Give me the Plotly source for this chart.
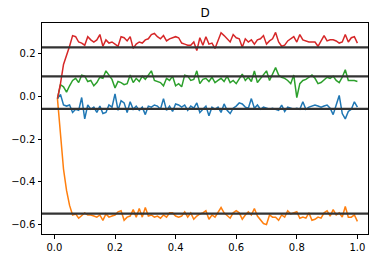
import numpy as np
import plotly.graph_objects as go

x = [round(0.01 * (i + 1), 2) for i in range(100)]

blue = [-0.01, 0.01, -0.04, -0.045, -0.04, -0.075, -0.06, -0.065, -0.005, -0.105,
        -0.04, -0.06, -0.05, -0.075, -0.045, -0.08, -0.075, -0.04, -0.05, 0.012,
        -0.065, -0.02, -0.03, -0.075, -0.025, -0.06, -0.045, -0.065, -0.05, -0.085,
        -0.045, -0.05, -0.04, -0.045, -0.06, -0.01, -0.065, -0.045, -0.07, -0.035,
        -0.04, -0.05, -0.04, -0.065, -0.045, -0.055, -0.03, -0.075, -0.06, -0.045,
        -0.09, -0.05, -0.06, -0.05, -0.075, -0.035, -0.065, -0.08, -0.055, -0.045,
        -0.03, -0.035, -0.05, -0.055, -0.01, -0.055, -0.04, -0.06, -0.05, -0.055,
        -0.06, -0.055, -0.06, -0.065, -0.04, -0.07, -0.05, -0.055, -0.06, -0.055,
        -0.06, -0.025, -0.06, -0.05, -0.045, -0.04, -0.045, -0.05, -0.045, -0.04,
        -0.055, -0.085, -0.04, 0.005, -0.08, -0.105, -0.07, -0.06, -0.025, -0.05]

orange = [-0.01, -0.19, -0.34, -0.44, -0.51, -0.555, -0.55, -0.57, -0.555, -0.545,
          -0.555, -0.555, -0.56, -0.565, -0.555, -0.58, -0.55, -0.565, -0.56, -0.555,
          -0.54, -0.535, -0.58, -0.565, -0.56, -0.53, -0.565, -0.525, -0.565, -0.52,
          -0.56, -0.555, -0.565, -0.56, -0.57, -0.555, -0.565, -0.545, -0.545, -0.56,
          -0.565, -0.56, -0.54, -0.565, -0.545, -0.575, -0.56, -0.55, -0.545, -0.535,
          -0.575, -0.555, -0.565, -0.54, -0.52, -0.545, -0.56, -0.57, -0.545, -0.535,
          -0.545, -0.575, -0.555, -0.54, -0.555, -0.525, -0.56, -0.575, -0.595, -0.6,
          -0.555, -0.565, -0.565, -0.58, -0.555, -0.565, -0.535, -0.55, -0.545, -0.54,
          -0.57, -0.565, -0.57, -0.545, -0.58, -0.575, -0.565, -0.57, -0.545, -0.535,
          -0.56, -0.53, -0.555, -0.545, -0.565, -0.515, -0.565, -0.565, -0.555, -0.585]

green = [-0.01, 0.055, 0.045, 0.02, 0.05, 0.075, 0.085, 0.065, 0.1, 0.095,
         0.07, 0.075, 0.05, 0.065, 0.09, 0.085, 0.12, 0.1, 0.08, 0.04,
         0.07, 0.065, 0.055, 0.06, 0.1, 0.065, 0.085, 0.07, 0.095, 0.08,
         0.1, 0.12, 0.075, 0.07, 0.065, 0.05, 0.085, 0.075, 0.095, 0.05,
         0.06, 0.045, 0.1, 0.095, 0.075, 0.08, 0.12, 0.06, 0.08, 0.085,
         0.07, 0.09, 0.065, 0.075, 0.085, 0.07, 0.095, 0.065, 0.075, 0.06,
         0.08, 0.105, 0.075, 0.09, 0.07, 0.12, 0.065, 0.085, 0.1, 0.12,
         0.075, 0.105, 0.135, 0.1, 0.09, 0.085, 0.075, 0.06, 0.1, -0.005,
         0.06, 0.075, 0.08, 0.09, 0.1, 0.085, 0.06, 0.065, 0.08, 0.09,
         0.085, 0.095, 0.075, 0.065, 0.09, 0.125, 0.075, 0.075, 0.075, 0.07]

red = [-0.01, 0.06, 0.15, 0.19, 0.235, 0.285, 0.28, 0.255, 0.25, 0.24,
       0.28, 0.265, 0.255, 0.265, 0.29, 0.235, 0.265, 0.25, 0.255, 0.245,
       0.235, 0.28, 0.275, 0.26, 0.28, 0.225, 0.245, 0.255, 0.25, 0.265,
       0.27, 0.29, 0.295, 0.28, 0.27, 0.285, 0.26, 0.27, 0.275, 0.28,
       0.275, 0.25, 0.245, 0.24, 0.24, 0.255, 0.215, 0.275, 0.24, 0.28,
       0.245, 0.25, 0.225, 0.26, 0.298, 0.285, 0.27, 0.255, 0.29, 0.275,
       0.27, 0.23, 0.27, 0.255, 0.265, 0.245, 0.265, 0.27, 0.285, 0.245,
       0.26, 0.27, 0.3, 0.255, 0.235, 0.24, 0.26, 0.27, 0.28, 0.255,
       0.29, 0.265, 0.26, 0.255, 0.255, 0.255, 0.235, 0.26, 0.285, 0.26,
       0.265, 0.265, 0.26, 0.25, 0.255, 0.29, 0.255, 0.275, 0.28, 0.25]

hlines = [0.23, 0.094, -0.058, -0.549]

series = [(blue, "#1f77b4"), (orange, "#ff7f0e"), (green, "#2ca02c"), (red, "#d62728")]

fig = go.Figure()
for vals, col in series:
    fig.add_trace(go.Scatter(x=x, y=vals, mode="lines",
                             line=dict(color=col, width=1.5), showlegend=False))

for h in hlines:
    fig.add_shape(type="line", xref="x domain", yref="y", x0=0, x1=1, y0=h, y1=h,
                  line=dict(color="#333333", width=2.2), layer="above")

axis_common = dict(showgrid=False, zeroline=False, showline=True, linecolor="black",
                   linewidth=1, mirror=True, ticks="outside", ticklen=3.5,
                   tickwidth=1, tickcolor="black",
                   tickfont=dict(family="DejaVu Sans", size=10, color="black"))

fig.update_layout(
    width=380, height=264,
    margin=dict(l=38, r=11, t=23, b=24),
    paper_bgcolor="white", plot_bgcolor="white",
    title=dict(text="D", x=0.5, xanchor="center", xref="paper", y=1 - 12.7 / 264,
               yanchor="middle", font=dict(family="DejaVu Sans", size=12, color="black")),
    xaxis=dict(range=[-0.041, 1.035], tickvals=[0, 0.2, 0.4, 0.6, 0.8, 1.0],
               tickformat=".1f", **axis_common),
    yaxis=dict(range=[-0.644, 0.344], tickvals=[-0.6, -0.4, -0.2, 0, 0.2],
               tickformat=".1f", **axis_common),
)

fig.write_html("out.html")
